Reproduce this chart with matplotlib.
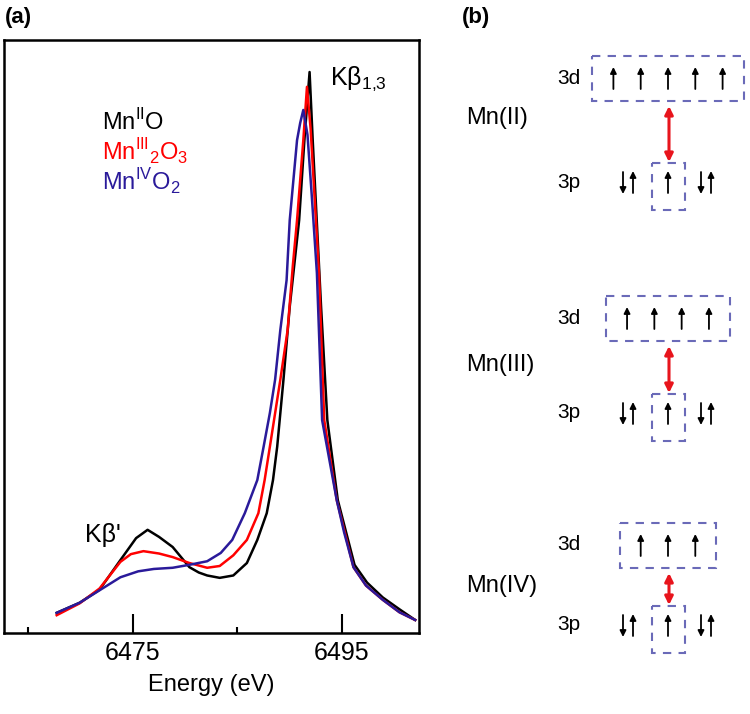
import numpy as np
import matplotlib.pyplot as plt
from matplotlib.patches import Rectangle

plt.rcParams['font.family'] = ['Liberation Sans', 'DejaVu Sans']
plt.rcParams['mathtext.fontset'] = 'custom'
plt.rcParams['mathtext.rm'] = 'Liberation Sans'

# ---- panel (a) data: energy (eV) and normalised intensity
E_mn2 = [6467.7, 6469.9, 6471.8, 6473.8, 6475.3, 6476.4, 6477.5, 6478.8, 6479.6, 6480.4,
         6481.3, 6482.1, 6483.3, 6484.6, 6485.9, 6486.9, 6487.8, 6488.4, 6488.8, 6489.4,
         6490.0, 6490.9, 6491.4, 6491.9, 6492.2, 6493.0, 6493.6, 6494.6, 6496.2, 6497.4,
         6498.9, 6500.5, 6502.0]
I_mn2 = [0.034, 0.051, 0.073, 0.123, 0.160, 0.174, 0.162, 0.145, 0.128, 0.111,
         0.102, 0.097, 0.093, 0.097, 0.118, 0.157, 0.202, 0.258, 0.314, 0.427,
         0.550, 0.696, 0.830, 0.946, 0.831, 0.550, 0.359, 0.224, 0.115, 0.085,
         0.060, 0.040, 0.022]

E_mn3 = [6467.7, 6469.9, 6471.8, 6473.8, 6474.8, 6476.0, 6477.5, 6478.8, 6480.4, 6482.1,
         6483.3, 6484.6, 6485.9, 6487.0, 6487.6, 6488.1, 6489.1, 6489.8, 6490.3, 6490.7,
         6491.3, 6491.65, 6492.0, 6492.8, 6493.3, 6494.5, 6496.1, 6497.3, 6498.9, 6500.5,
         6502.0]
I_mn3 = [0.030, 0.050, 0.075, 0.120, 0.133, 0.138, 0.134, 0.128, 0.118, 0.110,
         0.113, 0.131, 0.157, 0.202, 0.258, 0.314, 0.427, 0.511, 0.620, 0.696,
         0.831, 0.921, 0.850, 0.607, 0.359, 0.224, 0.111, 0.080, 0.056, 0.035,
         0.022]

E_mn4 = [6467.7, 6469.9, 6471.8, 6473.8, 6475.5, 6477.0, 6478.8, 6480.4, 6482.1, 6483.4,
         6484.5, 6485.7, 6486.9, 6487.5, 6488.1, 6488.6, 6489.1, 6489.7, 6490.0, 6490.7,
         6491.0, 6491.3, 6491.7, 6492.1, 6492.6, 6493.1, 6494.5, 6495.2, 6496.1, 6497.3,
         6498.9, 6500.5, 6502.0]
I_mn4 = [0.034, 0.051, 0.072, 0.094, 0.104, 0.108, 0.110, 0.115, 0.121, 0.135,
         0.157, 0.202, 0.258, 0.314, 0.371, 0.427, 0.511, 0.595, 0.696, 0.831,
         0.860, 0.882, 0.840, 0.740, 0.607, 0.359, 0.224, 0.170, 0.111, 0.080,
         0.056, 0.035, 0.022]

labels = [r'Mn$^{\rm II}$O', r'Mn$^{\rm III}$$_{\rm 2}$O$_{\rm 3}$', r'Mn$^{\rm IV}$O$_{\rm 2}$']
colors = ['black', 'red', '#2a1a9a']

# ---- panel (b) data
ions = ['Mn(II)', 'Mn(III)', 'Mn(IV)']
n_3d = [5, 4, 3]

fig = plt.figure(figsize=(7.5, 7.14), dpi=100)

ax = fig.add_axes([4/750, 1-633/714, 415/750, 593/714])
for E, I, c in zip([E_mn2, E_mn3, E_mn4], [I_mn2, I_mn3, I_mn4], colors):
    ax.plot(E, I, color=c, lw=1.8)
ax.set_xlim(6462.66, 6502.37)
ax.set_ylim(0, 1)
ax.set_yticks([])
ax.set_xticks([6475, 6495])
ax.set_xticks([6465, 6485], minor=True)
ax.tick_params(axis='x', which='major', direction='in', length=13.5, width=1.5,
               labelsize=18, pad=6)
ax.tick_params(axis='x', which='minor', direction='in', length=4.5, width=1.5)
for s in ax.spines.values():
    s.set_linewidth(1.8)
ax.set_xlabel('Energy (eV)', fontsize=17, labelpad=6)

for k, (lab, c) in enumerate(zip(labels, colors)):
    ax.text(0.235, 0.862 - k*0.0506, lab, color=c, fontsize=17,
            transform=ax.transAxes, va='center', ha='left')
ax.text(0.785, 0.935, r'Kβ$_{\rm 1{,}3}$', fontsize=18, transform=ax.transAxes,
        va='center', ha='left')
ax.text(0.195, 0.165, "Kβ'", fontsize=18, transform=ax.transAxes,
        va='center', ha='left')
fig.text(5/750, 1-17/714, '(a)', fontsize=16, fontweight='bold', va='center')
fig.text(462/750, 1-17/714, '(b)', fontsize=16, fontweight='bold', va='center')

# ---- panel (b): energy level schematic, drawn in pixel-like coordinates
bx = fig.add_axes([440/750, 0, 310/750, 1])
bx.set_xlim(440, 750)
bx.set_ylim(714, 0)
bx.axis('off')

row_3d = [78, 318, 545]
row_3p = [182, 413, 625]
row_ion = [118, 365, 586]
xc = 668
step = 27.3
box_col = '#6a6ab8'


def spin(x, y, up=True, h=22):
    a, b = (y + h/2, y - h/2) if up else (y - h/2, y + h/2)
    bx.annotate('', xy=(x, b), xytext=(x, a),
                arrowprops=dict(arrowstyle='-|>', color='black', lw=1.3,
                                mutation_scale=9, shrinkA=0, shrinkB=0))


for ion, n, y3d, y3p, yi in zip(ions, n_3d, row_3d, row_3p, row_ion):
    bx.text(466, yi, ion, fontsize=17, va='center', ha='left')
    bx.text(557, y3d, '3d', fontsize=15, va='center', ha='left')
    bx.text(557, y3p, '3p', fontsize=15, va='center', ha='left')
    half = (n - 1) * step / 2
    for i in range(n):
        spin(xc - half + i*step, y3d)
    bx.add_patch(Rectangle((xc - half - 21, y3d - 22), 2*half + 42, 45, fill=False,
                           ec=box_col, lw=1.5, ls=(0, (4, 3.5))))
    for dx in (-40, 38):
        spin(xc + dx - 5, y3p + 1, up=False)
        spin(xc + dx + 5, y3p, up=True)
    spin(xc, y3p)
    bx.add_patch(Rectangle((xc - 16, y3p - 19), 33, 47, fill=False,
                           ec=box_col, lw=1.5, ls=(0, (4, 3.5))))
    bx.annotate('', xy=(xc + 1, y3d + 28), xytext=(xc + 1, y3p - 20),
                arrowprops=dict(arrowstyle='<|-|>', color='#e8141c', lw=2.2,
                                mutation_scale=12, shrinkA=0, shrinkB=0))

fig.savefig('out.png', dpi=100)
